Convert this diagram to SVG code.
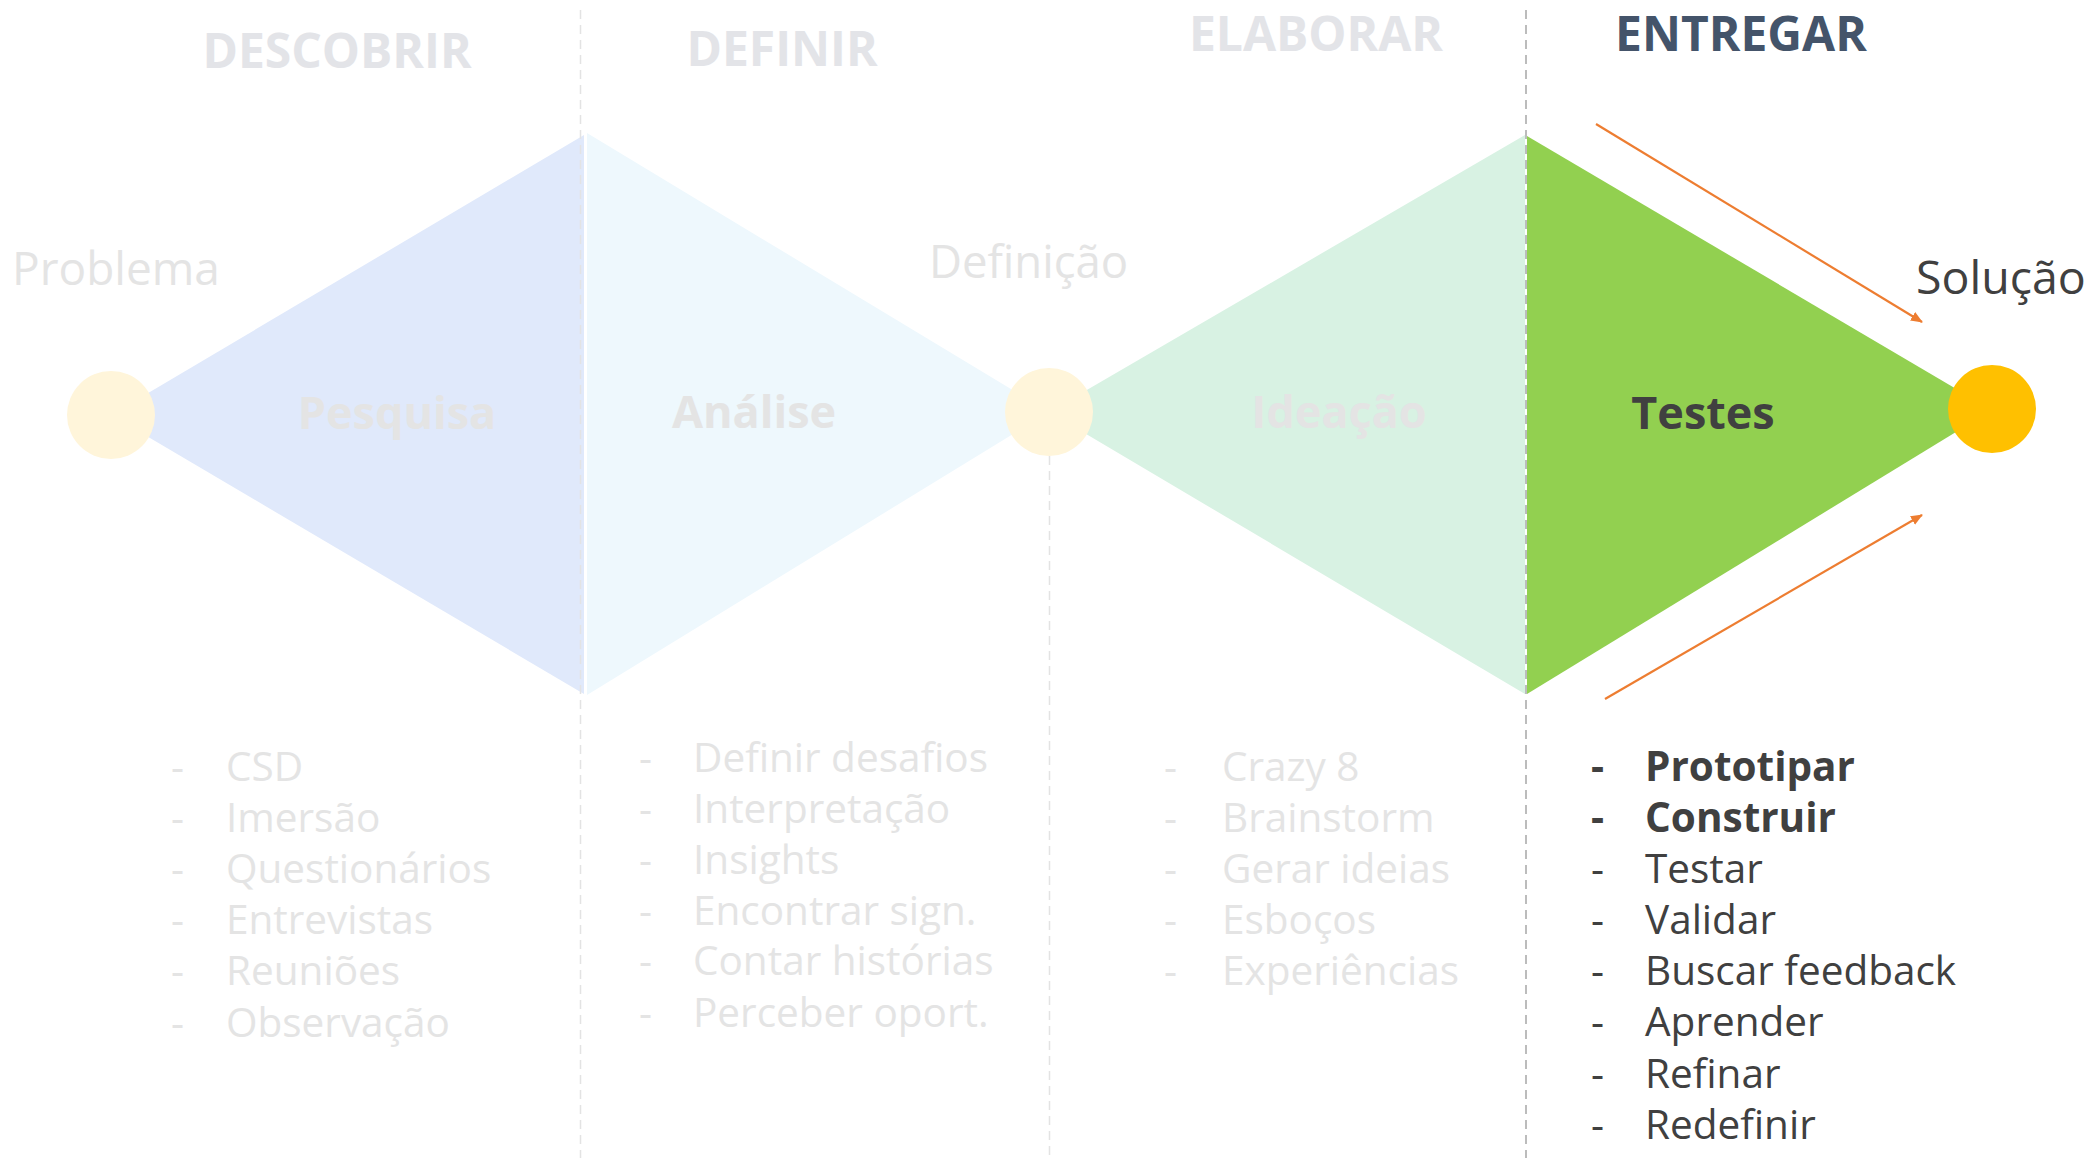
<svg xmlns="http://www.w3.org/2000/svg" width="2093" height="1158" viewBox="0 0 2093 1158">
<defs>
<style>
text{font-family:"Open Sans","Noto Sans","Liberation Sans",sans-serif}
.head{font-size:48px;font-weight:700;text-anchor:middle}
.pale{fill:#E3E4E8}
.faded{fill:#E4E4E4}
.dark{fill:#404040}
.lbl{font-size:46px}
.stage{font-size:45px;font-weight:700;text-anchor:middle}
.item{font-size:40.5px}
.b{font-weight:700}
.sep{fill:none;stroke-width:1.5}
.arrow{fill:none;stroke:#ED7D31;stroke-width:2.2;marker-end:url(#ah)}
</style>
<marker id="ah" viewBox="0 0 12 10" refX="11" refY="5" markerWidth="12" markerHeight="10" markerUnits="userSpaceOnUse" orient="auto">
<path d="M0,0 L12,5 L0,10 Z" fill="#ED7D31"/>
</marker>
</defs>
<rect width="2093" height="1158" fill="#FFFFFF"/>

<g id="shapes">
<polygon id="tri-pesquisa" points="111,415 584,135 584,694" fill="#E0E9FB"/>
<polygon id="tri-analise" points="587,133 587,695 1049,412" fill="#EEF8FD"/>
<polygon id="tri-ideacao" points="1049,412 1525,135 1525,694" fill="#D8F2E3"/>
<polygon id="tri-testes" points="1527,136 1527,694 1992,410" fill="#92D050"/>
</g>

<g id="separators">
<line class="sep" x1="580.5" y1="10" x2="580.5" y2="1158" stroke="#E3E3E3" stroke-dasharray="9 6"/>
<line class="sep" x1="1049.5" y1="456" x2="1049.5" y2="1158" stroke="#E3E3E3" stroke-dasharray="9 6"/>
<line class="sep" x1="1526" y1="10" x2="1526" y2="1158" stroke="#A6A6A6" stroke-dasharray="9 6"/>
</g>

<g id="node-problema">
<circle cx="111" cy="415" r="44" fill="#FFF5DA"/>
<text class="lbl faded" x="12" y="285">Problema</text>
</g>
<g id="node-definicao">
<circle cx="1049" cy="412" r="44" fill="#FFF5DA"/>
<text class="lbl faded" x="929" y="278" style="font-size:45.5px">Definição</text>
</g>
<g id="node-solucao">
<circle cx="1992" cy="409" r="44" fill="#FFC000"/>
<text class="lbl dark" x="1916" y="294" style="font-size:46.5px">Solução</text>
</g>

<g id="headings">
<text class="head pale" x="337" y="68">DESCOBRIR</text>
<text class="head pale" x="782" y="66">DEFINIR</text>
<text class="head pale" x="1316" y="51">ELABORAR</text>
<text class="head" x="1741" y="51" fill="#44546A">ENTREGAR</text>
</g>

<g id="stages">
<text class="stage faded" x="397" y="429">Pesquisa</text>
<text class="stage faded" x="754" y="428">Análise</text>
<text class="stage faded" x="1339" y="428">Ideação</text>
<text class="stage dark" x="1703" y="429">Testes</text>
</g>

<g id="connectors">
<line class="arrow" x1="1596" y1="124" x2="1922" y2="322"/>
<line class="arrow" x1="1605" y1="699" x2="1922" y2="515"/>
</g>

<g id="list-descobrir" class="item faded">
<text x="171" y="781">-</text><text x="226" y="781">CSD</text>
<text x="171" y="832">-</text><text x="226" y="832">Imersão</text>
<text x="171" y="883">-</text><text x="226" y="883">Questionários</text>
<text x="171" y="934">-</text><text x="226" y="934">Entrevistas</text>
<text x="171" y="985">-</text><text x="226" y="985">Reuniões</text>
<text x="171" y="1037">-</text><text x="226" y="1037">Observação</text>
</g>

<g id="list-definir" class="item faded">
<text x="639" y="772">-</text><text x="693" y="772">Definir desafios</text>
<text x="639" y="823">-</text><text x="693" y="823">Interpretação</text>
<text x="639" y="874">-</text><text x="693" y="874">Insights</text>
<text x="639" y="925">-</text><text x="693" y="925">Encontrar sign.</text>
<text x="639" y="975">-</text><text x="693" y="975">Contar histórias</text>
<text x="639" y="1027">-</text><text x="693" y="1027">Perceber oport.</text>
</g>

<g id="list-elaborar" class="item faded">
<text x="1164" y="781">-</text><text x="1222" y="781">Crazy 8</text>
<text x="1164" y="832">-</text><text x="1222" y="832">Brainstorm</text>
<text x="1164" y="883">-</text><text x="1222" y="883">Gerar ideias</text>
<text x="1164" y="934">-</text><text x="1222" y="934">Esboços</text>
<text x="1164" y="985">-</text><text x="1222" y="985">Experiências</text>
</g>

<g id="list-entregar" class="item dark">
<text class="b" x="1591" y="781">-</text><text class="b" x="1645" y="781">Prototipar</text>
<text class="b" x="1591" y="832">-</text><text class="b" x="1645" y="832">Construir</text>
<text x="1591" y="883">-</text><text x="1645" y="883">Testar</text>
<text x="1591" y="934">-</text><text x="1645" y="934">Validar</text>
<text x="1591" y="985">-</text><text x="1645" y="985">Buscar feedback</text>
<text x="1591" y="1036">-</text><text x="1645" y="1036">Aprender</text>
<text x="1591" y="1088">-</text><text x="1645" y="1088">Refinar</text>
<text x="1591" y="1139">-</text><text x="1645" y="1139">Redefinir</text>
</g>
</svg>
